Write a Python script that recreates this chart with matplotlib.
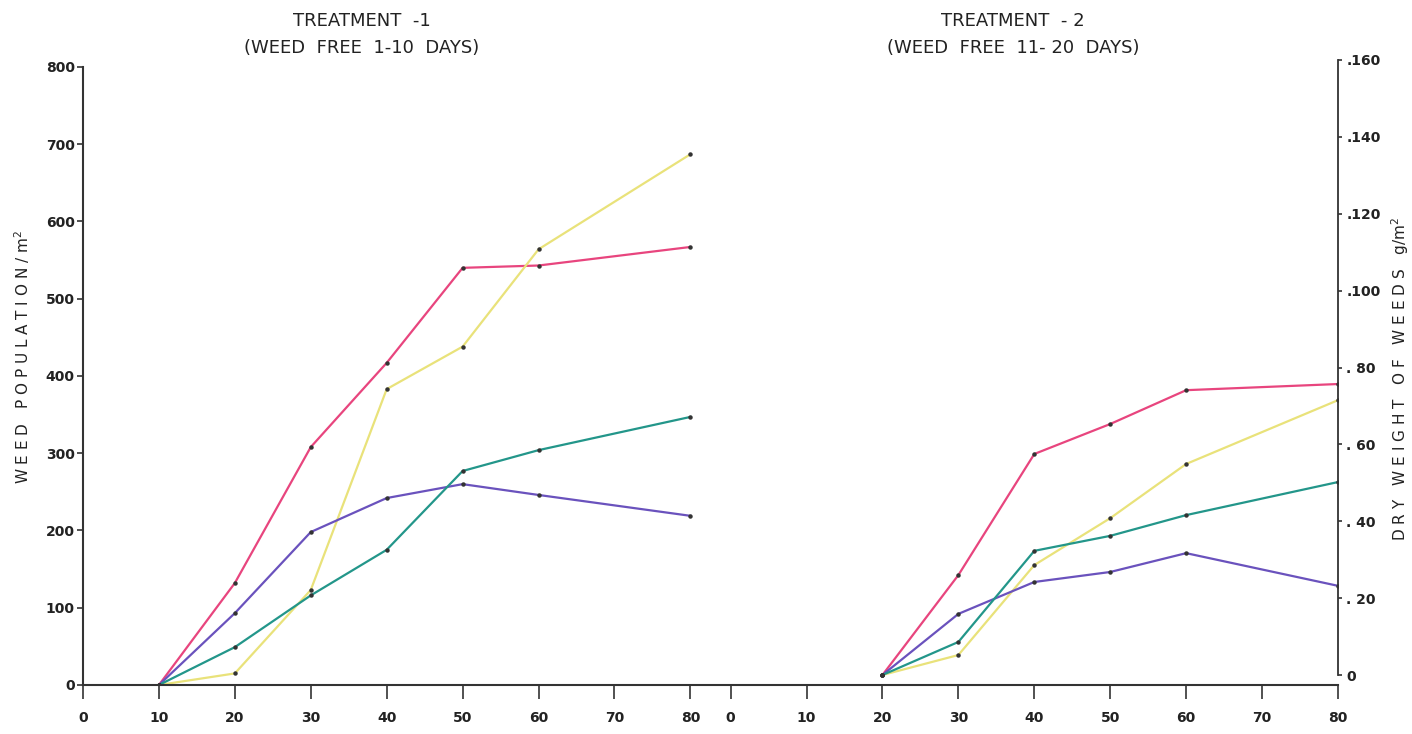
import matplotlib.pyplot as plt
import numpy as np

# treatment 1 (left panel), weed population per m2
days_t1 = [10, 20, 30, 40, 50, 60, 80]
pink_t1 = [0, 132, 308, 417, 540, 543, 567]
yellow_t1 = [0, 15, 123, 383, 438, 564, 687]
teal_t1 = [0, 49, 116, 175, 277, 304, 347]
purple_t1 = [0, 93, 198, 242, 260, 246, 219]

# treatment 2 (right panel), dry weight of weeds g/m2
days_t2 = [20, 30, 40, 50, 60, 80]
pink_t2 = [0, 0.026, 0.0575, 0.0653, 0.0741, 0.0757]
yellow_t2 = [0, 0.0052, 0.0286, 0.0408, 0.0549, 0.0715]
teal_t2 = [0, 0.0086, 0.0323, 0.0362, 0.0416, 0.0502]
purple_t2 = [0, 0.0159, 0.0242, 0.0268, 0.0317, 0.0232]

day_ticks = [0, 10, 20, 30, 40, 50, 60, 70, 80]
pop_ticks = [0, 100, 200, 300, 400, 500, 600, 700, 800]
dw_ticks = [0, 0.02, 0.04, 0.06, 0.08, 0.10, 0.12, 0.14, 0.16]
dw_labels = ['0', '. 20', '. 40', '. 60', '. 80', '.100', '.120', '.140', '.160']

offset = 85.3  # where the second panel's day 0 sits on the shared axis

colors = {'pink': '#e8457e', 'yellow': '#e9e27a', 'teal': '#23968a', 'purple': '#6a52bd'}

fig = plt.figure(figsize=(14.12, 7.34), dpi=100)
ax = fig.add_axes([83 / 1412, 49 / 734, 1255 / 1412, 630 / 734])
ax2 = ax.twinx()

def draw(a, x, y, c):
    a.plot(x, y, color=c, lw=1.6, zorder=2)
    a.plot(x, y, 'o', color='#333333', ms=2.2, zorder=3)

draw(ax, days_t1, pink_t1, colors['pink'])
draw(ax, days_t1, yellow_t1, colors['yellow'])
draw(ax, days_t1, purple_t1, colors['purple'])
draw(ax, days_t1, teal_t1, colors['teal'])

x2 = np.array(days_t2) + offset
draw(ax2, x2, pink_t2, colors['pink'])
draw(ax2, x2, yellow_t2, colors['yellow'])
draw(ax2, x2, purple_t2, colors['purple'])
draw(ax2, x2, teal_t2, colors['teal'])

ax.set_xlim(0, offset + 80)
ax.set_ylim(0, 815.5)
ax2.set_ylim(-0.0026, 0.1613)

xt = day_ticks + [d + offset for d in day_ticks]
ax.set_xticks(xt)
ax.set_xticklabels([str(d) for d in day_ticks] * 2, fontsize=10, fontweight='bold', color='#222222')
ax.tick_params(axis='x', length=10, width=1.2, pad=9, color='#333333')

ax.set_yticks(pop_ticks)
ax.set_yticklabels([str(v) for v in pop_ticks], fontsize=10, fontweight='bold', color='#222222')
ax.tick_params(axis='y', length=4, width=1.2, pad=2, color='#333333')

ax2.set_yticks(dw_ticks)
ax2.set_yticklabels(dw_labels, fontsize=10, fontweight='bold', color='#222222')
ax2.tick_params(axis='y', length=3, width=1.2, pad=3, color='#333333')

for a in (ax, ax2):
    a.spines['top'].set_visible(False)
ax.spines['right'].set_visible(False)
ax2.spines['left'].set_visible(False)
ax2.spines['bottom'].set_visible(False)
ax.spines['left'].set_bounds(0, 800)
ax2.spines['right'].set_bounds(0, 0.16)
for s in ('left', 'bottom'):
    ax.spines[s].set_linewidth(1.5)
    ax.spines[s].set_color('#333333')
ax2.spines['right'].set_linewidth(1.3)
ax2.spines['right'].set_color('#333333')

ax.set_ylabel('W E E D   P O P U L A T I O N / m$^2$', fontsize=11, color='#222222',
              va='center')
ax.yaxis.set_label_coords(-0.0486, 0.52)
ax2.set_ylabel('D R Y   W E I G H T   O F   W E E D S   g/m$^2$', fontsize=11, color='#222222',
               rotation=90, va='center')
ax2.yaxis.set_label_coords(1.0494, 0.485)

fig.text(362 / 1412, 1 - 21 / 734, 'TREATMENT  -1', ha='center', va='center',
         fontsize=13, color='#222222')
fig.text(362 / 1412, 1 - 48 / 734, '(WEED  FREE  1-10  DAYS)', ha='center', va='center',
         fontsize=13, color='#222222')
fig.text(1013 / 1412, 1 - 21 / 734, 'TREATMENT  - 2', ha='center', va='center',
         fontsize=13, color='#222222')
fig.text(1013 / 1412, 1 - 48 / 734, '(WEED  FREE  11- 20  DAYS)', ha='center', va='center',
         fontsize=13, color='#222222')

fig.savefig('out.png', dpi=100)
